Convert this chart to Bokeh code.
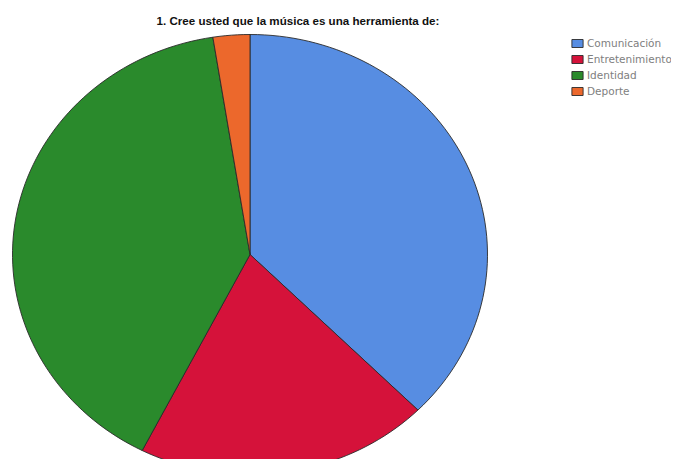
import numpy as np
from bokeh.plotting import figure
from bokeh.models import Range1d, Legend, LegendItem
from bokeh.core.properties import value
from bokeh.embed import file_html
from bokeh.resources import INLINE

title_text = "1. Cree usted que la música es una herramienta de:"
categories = ["Comunicación", "Entretenimiento", "Identidad", "Deporte"]
counts = [15, 8, 16, 1]
colors = ["#578de2", "#d5123a", "#2a8a2c", "#ec682c"]

W, H = 671, 459
p = figure(width=W, height=H, output_backend="svg", toolbar_location=None,
           x_range=Range1d(0, W), y_range=Range1d(H, 0),
           min_border=0, outline_line_color=None)
p.axis.visible = False
p.grid.visible = False
p.background_fill_color = "white"

cx, cy, rx, ry = 249.5, 254.0, 237.5, 220.0
total = float(sum(counts))
start = 0.0
items = []
for cat, c, col in zip(categories, counts, colors):
    end = start + c / total * 2 * np.pi
    n = max(4, int(200 * (end - start) / (2 * np.pi)) + 2)
    th = np.linspace(start, end, n)
    xs = [cx] + list(cx + rx * np.sin(th)) + [cx]
    ys = [cy] + list(cy - ry * np.cos(th)) + [cy]
    r = p.patch(xs, ys, fill_color=col, line_color="#2a2a2a", line_width=0.9)
    items.append(LegendItem(label=cat, renderers=[r]))
    start = end

p.text(x=[297.5], y=[20], text=[title_text], text_align="center",
       text_baseline="middle", text_font=value("Liberation Sans"),
       text_font_size="11.6px", text_font_style="bold", text_color="#111111")

legend = Legend(items=items, location=(570, 360), padding=0, margin=0,
                spacing=0, label_height=16, glyph_height=10, glyph_width=14,
                label_standoff=3, label_text_font="DejaVu Sans",
                label_text_font_size="10.5px", label_text_color="#808080",
                border_line_color=None, background_fill_alpha=0)
p.add_layout(legend, "center")

open("out.html", "w").write(file_html(p, INLINE))
